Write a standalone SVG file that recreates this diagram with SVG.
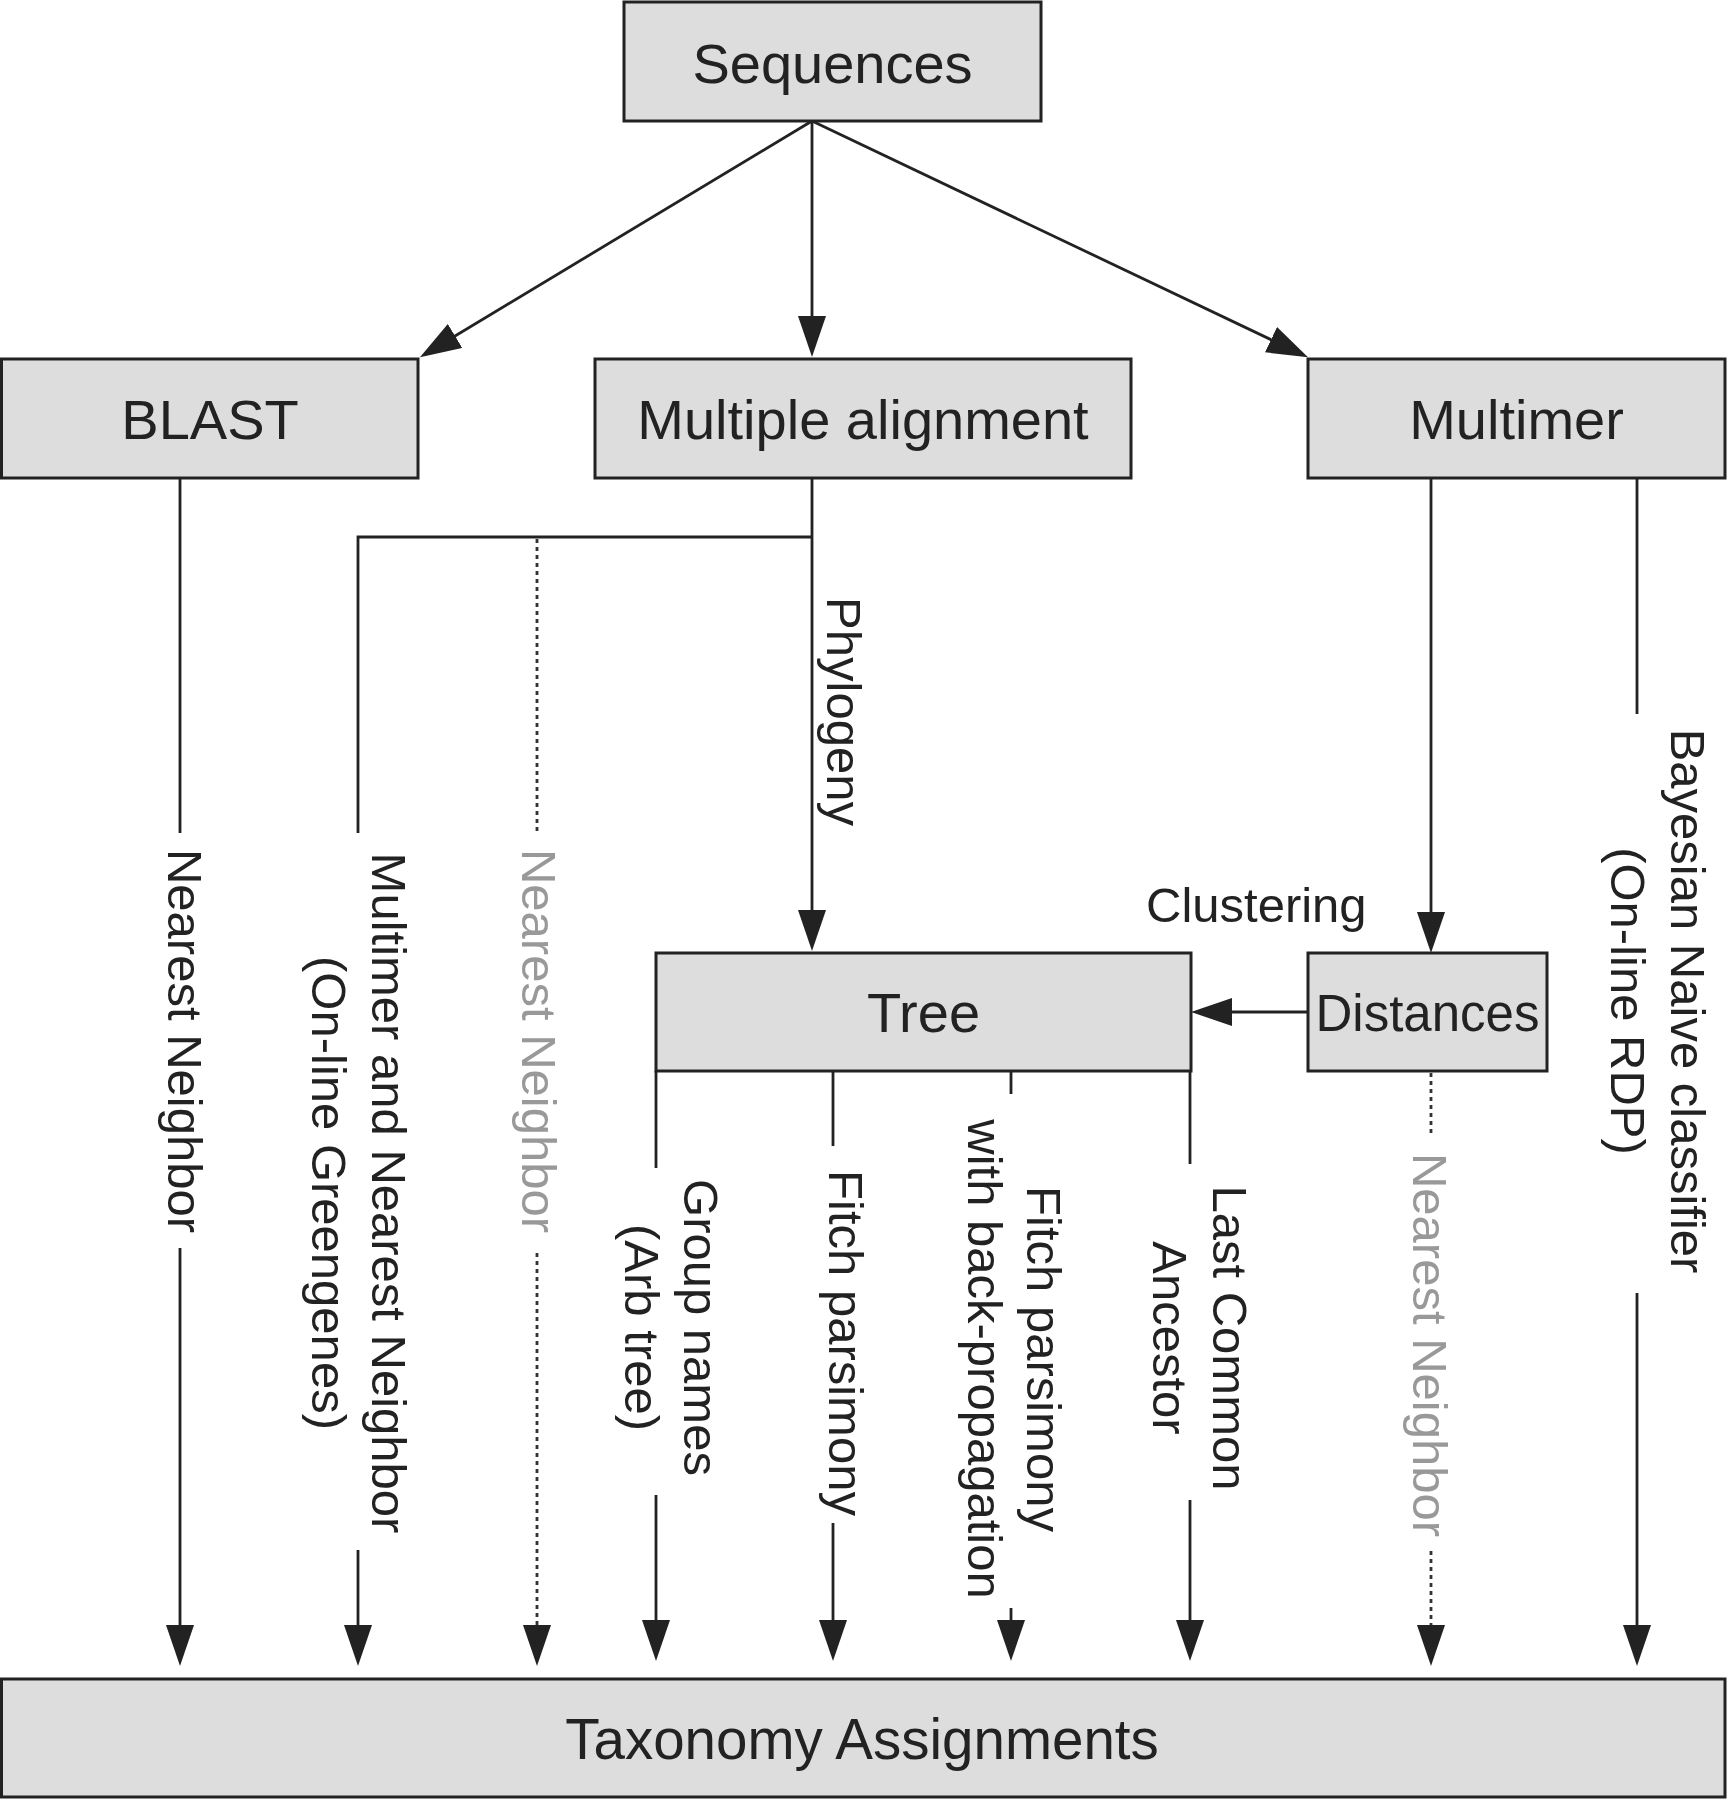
<svg xmlns="http://www.w3.org/2000/svg" width="1727" height="1800" viewBox="0 0 1727 1800">
<style>
.box{fill:#dddddd;stroke:#222;stroke-width:3}
.lbl{font-family:"Liberation Sans",Arial,Helvetica,sans-serif;font-size:56px;fill:#222;text-anchor:middle}
.vt{font-family:"Liberation Sans",Arial,Helvetica,sans-serif;font-size:49px;fill:#222;text-anchor:middle}
.gray{fill:#999}
.ln{fill:none;stroke:#222;stroke-width:2.8}
.dot{fill:none;stroke:#333;stroke-width:2.8;stroke-dasharray:4 4}
</style>
<defs>
<marker id="ah" viewBox="0 0 41 28" refX="31" refY="14" markerWidth="41" markerHeight="28" markerUnits="userSpaceOnUse" orient="auto">
<path d="M0,0 L41,14 L0,28 Z" fill="#222"/>
</marker>
</defs>
<rect width="1727" height="1800" fill="#fff"/>

<g id="connectors">
<line class="ln" x1="812" y1="121" x2="428.5" y2="352" marker-end="url(#ah)"/>
<line class="ln" x1="812" y1="121" x2="812" y2="347" marker-end="url(#ah)"/>
<line class="ln" x1="812" y1="121" x2="1299" y2="353" marker-end="url(#ah)"/>
<line class="ln" x1="180" y1="478" x2="180" y2="833"/>
<line class="ln" x1="180" y1="1248" x2="180" y2="1656" marker-end="url(#ah)"/>
<polyline class="ln" points="358,833 358,537 812,537"/>
<line class="ln" x1="358" y1="1550" x2="358" y2="1656" marker-end="url(#ah)"/>
<line class="dot" x1="537" y1="539" x2="537" y2="833"/>
<line class="dot" x1="537" y1="1253" x2="537" y2="1646"/>
<path d="M523,1625 L537,1666 L551,1625 Z" fill="#222"/>
<line class="ln" x1="812" y1="478" x2="812" y2="941" marker-end="url(#ah)"/>
<line class="ln" x1="1431" y1="478" x2="1431" y2="943" marker-end="url(#ah)"/>
<line class="ln" x1="1308" y1="1012" x2="1201" y2="1012" marker-end="url(#ah)"/>
<line class="ln" x1="1637" y1="478" x2="1637" y2="714"/>
<line class="ln" x1="1637" y1="1293" x2="1637" y2="1656" marker-end="url(#ah)"/>
<line class="dot" x1="1431" y1="1073" x2="1431" y2="1136"/>
<line class="dot" x1="1431" y1="1551" x2="1431" y2="1646"/>
<path d="M1417,1625 L1431,1666 L1445,1625 Z" fill="#222"/>
<line class="ln" x1="656" y1="1071" x2="656" y2="1168"/>
<line class="ln" x1="656" y1="1495" x2="656" y2="1651" marker-end="url(#ah)"/>
<line class="ln" x1="833" y1="1071" x2="833" y2="1146"/>
<line class="ln" x1="833" y1="1523" x2="833" y2="1651" marker-end="url(#ah)"/>
<line class="ln" x1="1011" y1="1071" x2="1011" y2="1094"/>
<line class="ln" x1="1011" y1="1608" x2="1011" y2="1651" marker-end="url(#ah)"/>
<line class="ln" x1="1190" y1="1071" x2="1190" y2="1164"/>
<line class="ln" x1="1190" y1="1500" x2="1190" y2="1651" marker-end="url(#ah)"/>

<g id="labels">
<text class="vt" transform="translate(827,711.5) rotate(90)">Phylogeny</text>
<text class="vt" transform="translate(168,1041) rotate(90)">Nearest Neighbor</text>
<text class="vt" transform="translate(372,1193) rotate(90)"><tspan x="0" y="0">Multimer and Nearest Neighbor</tspan><tspan x="0" y="60">(On-line Greengenes)</tspan></text>
<text class="vt gray" transform="translate(522,1041) rotate(90)">Nearest Neighbor</text>
<text class="vt" transform="translate(684,1327.5) rotate(90)"><tspan x="0" y="0">Group names</tspan><tspan x="0" y="59">(Arb tree)</tspan></text>
<text class="vt" transform="translate(829,1343) rotate(90)">Fitch parsimony</text>
<text class="vt" transform="translate(1027,1359) rotate(90)"><tspan x="0" y="0">Fitch parsimony</tspan><tspan x="0" y="59">with back-propagation</tspan></text>
<text class="vt" transform="translate(1213,1338) rotate(90)"><tspan x="0" y="0">Last Common</tspan><tspan x="0" y="60">Ancestor</tspan></text>
<text class="vt gray" transform="translate(1413,1345) rotate(90)">Nearest Neighbor</text>
<text class="vt" transform="translate(1671,1001) rotate(90)"><tspan x="0" y="0">Bayesian Naive classifier</tspan><tspan x="0" y="60">(On-line RDP)</tspan></text>
<text class="vt" x="1146" y="922" style="text-anchor:start">Clustering</text>
</g>
</g>

<g id="sequences">
<rect class="box" x="624" y="2" width="417" height="119"/>
<text class="lbl" x="832.5" y="83">Sequences</text>
</g>
<g id="blast">
<rect class="box" x="1.5" y="359" width="416.5" height="119"/>
<text class="lbl" x="210" y="439">BLAST</text>
</g>
<g id="multiple-alignment">
<rect class="box" x="595" y="359" width="536" height="119"/>
<text class="lbl" x="863" y="439">Multiple alignment</text>
</g>
<g id="multimer">
<rect class="box" x="1308" y="359" width="417" height="119"/>
<text class="lbl" x="1516.5" y="439">Multimer</text>
</g>
<g id="tree">
<rect class="box" x="656" y="953" width="535" height="118"/>
<text class="lbl" x="923.5" y="1032">Tree</text>
</g>
<g id="distances">
<rect class="box" x="1308" y="953" width="239" height="118"/>
<text class="lbl" x="1427.5" y="1031" style="font-size:51px">Distances</text>
</g>
<g id="taxonomy-assignments">
<rect class="box" x="1.5" y="1679" width="1723.5" height="118"/>
<text class="lbl" x="862" y="1759" style="font-size:56.5px">Taxonomy Assignments</text>
</g>
</svg>
